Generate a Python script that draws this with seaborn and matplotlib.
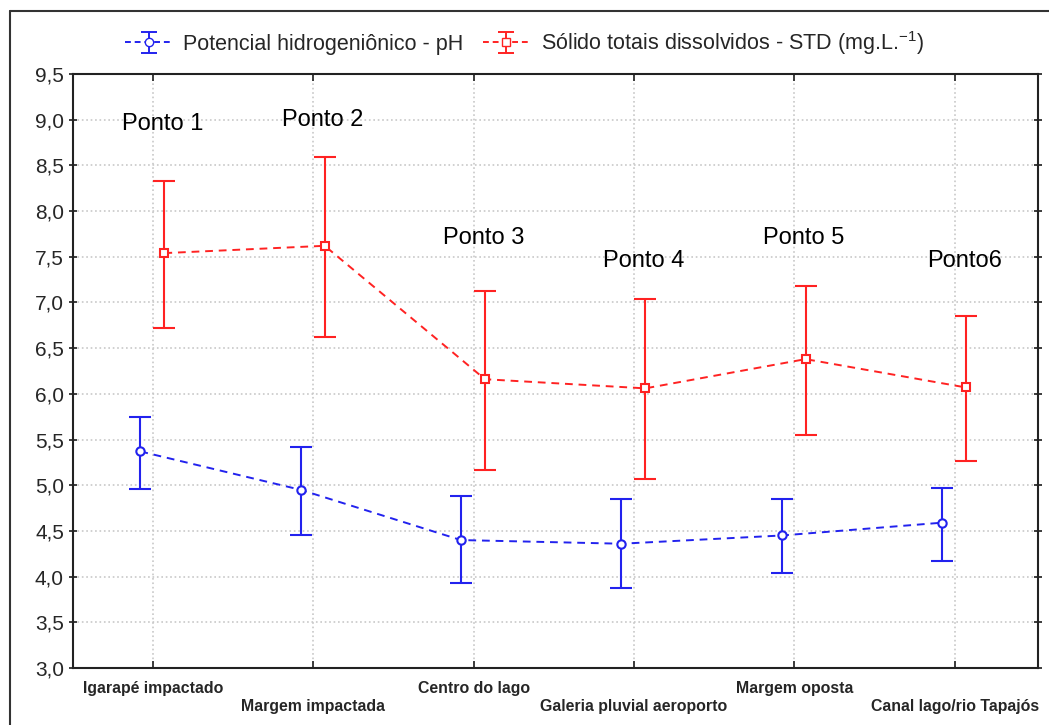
import numpy as np
import pandas as pd
import matplotlib.pyplot as plt
import seaborn as sns
from matplotlib.ticker import FuncFormatter, MultipleLocator
from matplotlib.lines import Line2D

locais = ['Igarapé impactado', 'Margem impactada', 'Centro do lago',
          'Galeria pluvial aeroporto', 'Margem oposta', 'Canal lago/rio Tapajós']
pontos = ['Ponto 1', 'Ponto 2', 'Ponto 3', 'Ponto 4', 'Ponto 5', 'Ponto6']

ph_media = [5.37, 4.95, 4.40, 4.36, 4.45, 4.59]
ph_inf = [4.96, 4.45, 3.93, 3.88, 4.04, 4.17]
ph_sup = [5.75, 5.42, 4.88, 4.85, 4.85, 4.97]

std_media = [7.54, 7.62, 6.16, 6.06, 6.38, 6.07]
std_inf = [6.72, 6.62, 5.17, 5.07, 5.55, 5.26]
std_sup = [8.33, 8.59, 7.13, 7.04, 7.18, 6.85]

lab_ph = 'Potencial hidrogeniônico - pH'
lab_std = 'Sólido totais dissolvidos - STD (mg.L.$^{\\mathregular{-1}}$)'

sns.set_theme(style='white')
plt.rcParams['font.family'] = ['Liberation Sans', 'DejaVu Sans']

fig = plt.figure(figsize=(10.49, 7.25), dpi=100)
ax = fig.add_axes([73/1049, 1 - 668/725, (1038 - 73)/1049, (668 - 74)/725])

series = [
    (lab_ph, ph_media, ph_inf, ph_sup, '#2222ee', 'o', -0.08),
    (lab_std, std_media, std_inf, std_sup, '#ff2222', 's', 0.07),
]

handles = []
for nome, media, inf, sup, cor, mk, desl in series:
    df = pd.DataFrame({'x': [i + desl for i in range(len(locais))], 'y': media})
    sns.lineplot(data=df, x='x', y='y', ax=ax, color=cor, linestyle=(0, (4, 3)),
                 linewidth=1.4, marker=mk, markersize=6, markerfacecolor='white',
                 markeredgecolor=cor, markeredgewidth=1.5, zorder=3)
    err = [[m - lo for m, lo in zip(media, inf)], [hi - m for m, hi in zip(media, sup)]]
    ax.errorbar(df['x'], df['y'], yerr=err, fmt='none', ecolor=cor,
                elinewidth=1.5, capsize=8, capthick=1.5, zorder=2)
    # handle only for the legend (nan data, nothing drawn)
    h = ax.errorbar([np.nan], [np.nan], yerr=[1], color=cor, linestyle=(0, (3, 2)),
                    marker=mk, markersize=6, markerfacecolor='white',
                    markeredgecolor=cor, linewidth=1.4, elinewidth=1.4,
                    capsize=6, capthick=1.4)
    handles.append(h)

label_y = [8.95, 9.0, 7.7, 7.45, 7.7, 7.45]
for i, (p, yy) in enumerate(zip(pontos, label_y)):
    ax.text(i + 0.06, yy, p, ha='center', va='center', fontsize=17, color='black')

ax.set_xlim(-0.5, 5.52)
ax.set_ylim(3.0, 9.5)
ax.yaxis.set_major_locator(MultipleLocator(0.5))
ax.yaxis.set_major_formatter(FuncFormatter(lambda v, p: f'{v:.1f}'.replace('.', ',')))
ax.set_xticks(range(len(locais)))
ax.set_xticklabels([s if i % 2 == 0 else '\n' + s for i, s in enumerate(locais)],
                   fontsize=11.4, fontweight='bold', linespacing=1.3,
                   family=['Liberation Sans Narrow', 'Liberation Sans'])
ax.tick_params(axis='y', labelsize=15, direction='inout', length=6, left=True, right=True)
ax.tick_params(axis='x', direction='in', length=5, bottom=True, top=True, pad=9)
ax.set_xlabel('')
ax.set_ylabel('')
ax.grid(True, color='#c8c8c8', linestyle=':', linewidth=1.2)
for s in ax.spines.values():
    s.set_color('#222222')
    s.set_linewidth(1.5)

fig.legend(handles, [lab_ph, lab_std], loc='center', bbox_to_anchor=(0.5, 1 - 43/725),
           ncol=2, frameon=False, fontsize=15.5, handlelength=2.2, columnspacing=0.9,
           handletextpad=0.5)

fig.add_artist(Line2D([10/1049, 10/1049], [0, 1 - 11/725], color='#333333', linewidth=1.5))
fig.add_artist(Line2D([10/1049, 1], [1 - 11/725, 1 - 11/725], color='#333333', linewidth=1.5))

fig.savefig('out.png', dpi=100)
